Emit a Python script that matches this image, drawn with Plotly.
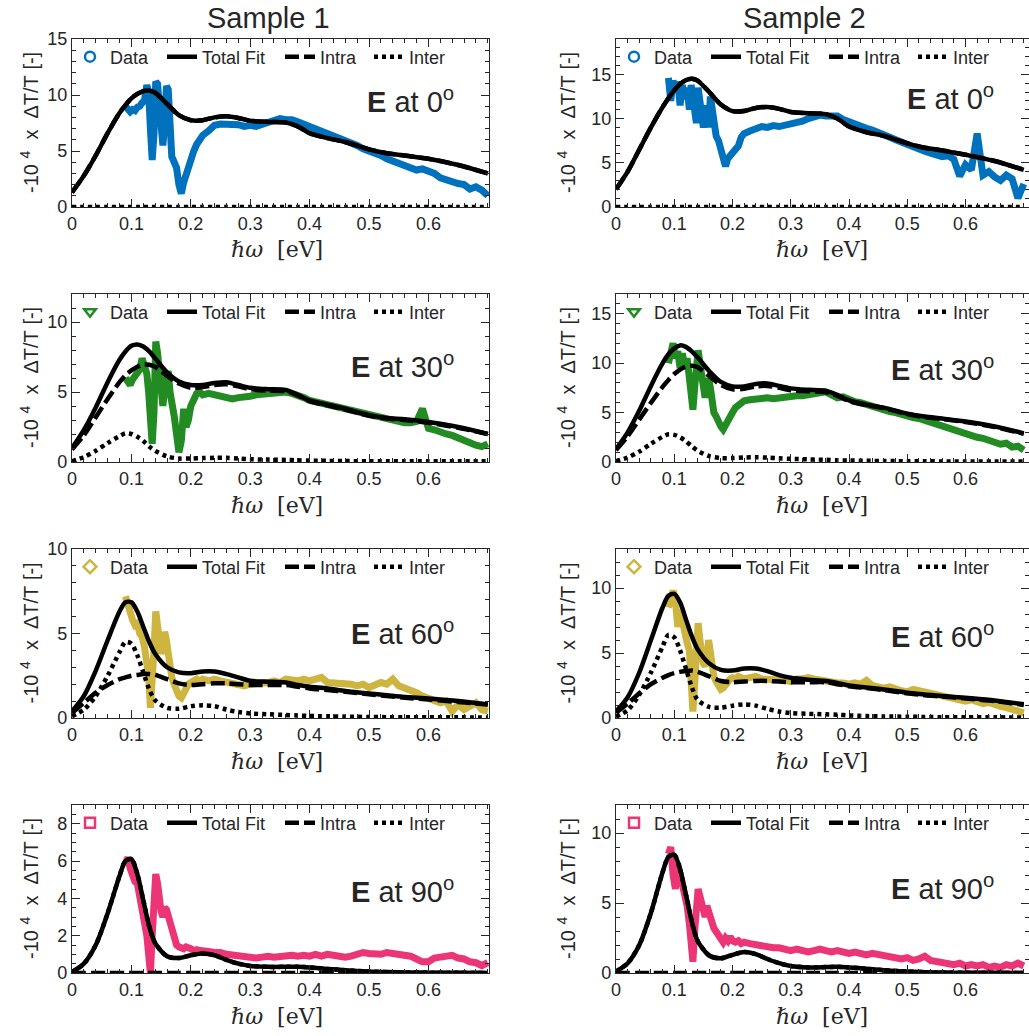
import plotly.graph_objects as go

# ---------------- data ----------------
FIT_X = [0, 0.02, 0.04, 0.06, 0.08, 0.09, 0.1, 0.11, 0.12, 0.13, 0.14, 0.16, 0.18, 0.2, 0.22,
         0.24, 0.26, 0.28, 0.3, 0.33, 0.36, 0.38, 0.4, 0.43, 0.46, 0.5, 0.53, 0.56, 0.6, 0.65, 0.7]

DATA_X = [0.090, 0.094, 0.098, 0.102, 0.106, 0.110, 0.114, 0.118, 0.122, 0.126,
          0.129, 0.132, 0.135, 0.138, 0.141, 0.144, 0.147, 0.150, 0.153, 0.156,
          0.159, 0.162, 0.165, 0.168, 0.172, 0.176, 0.180, 0.184, 0.188, 0.192,
          0.196, 0.200, 0.205, 0.210, 0.215, 0.220, 0.230, 0.240, 0.250, 0.260,
          0.270, 0.280, 0.290, 0.300, 0.310, 0.320, 0.330, 0.340, 0.350, 0.360,
          0.370, 0.380, 0.390, 0.400, 0.410, 0.420, 0.430, 0.440, 0.450, 0.460,
          0.470, 0.480, 0.490, 0.500, 0.510, 0.520, 0.530, 0.540, 0.550, 0.560,
          0.570, 0.580, 0.590, 0.600, 0.610, 0.620, 0.630, 0.640, 0.650, 0.660,
          0.670, 0.680, 0.690, 0.700]

# Sample 1, E at 0 deg
S1_0_DATA = [9.0, 8.6, 8.5, 8.7, 8.6, 8.9, 9.0, 9.3, 9.5, 10.9,
             10.2, 7.0, 4.2, 6.5, 11.2, 11.0, 9.0, 6.2, 5.5, 7.5,
             10.8, 10.5, 7.0, 4.5, 4.0, 3.5, 2.0, 1.2, 2.2, 3.0,
             3.8, 4.3, 5.0, 5.6, 6.0, 6.4, 6.8, 7.3, 7.4, 7.4,
             7.3, 7.35, 7.2, 7.3, 7.2, 7.4, 7.6, 7.7, 7.9, 7.8,
             7.8, 7.6, 7.4, 7.2, 7.0, 6.8, 6.5, 6.4, 6.2, 6.0,
             5.7, 5.5, 5.2, 5.0, 4.9, 4.6, 4.3, 4.1, 3.8, 3.6,
             3.5, 3.3, 3.4, 3.2, 3.0, 2.6, 2.4, 2.3, 2.1, 2.0,
             1.6, 1.8, 1.5, 1.0]
S1_0_TOTAL = [1.3, 2.8, 4.6, 6.6, 8.4, 9.1, 9.7, 10.1, 10.35, 10.4, 10.2, 9.2, 8.2, 7.75, 7.75,
              8.0, 8.1, 7.95, 7.7, 7.6, 7.55, 7.2, 6.6, 6.15, 5.8, 5.15, 4.8, 4.6, 4.3, 3.75, 3.0]
S1_0_INTRA = S1_0_TOTAL
S1_0_INTER = [0, 0, 0, 0, 0, 0, 0, 0, 0, 0, 0, 0, 0, 0, 0,
              0, 0, 0, 0, 0, 0, 0, 0, 0, 0, 0, 0, 0, 0, 0, 0]

# Sample 2, E at 0 deg
S2_0_DATA = [14.6, 12.0, 14.3, 13.0, 14.2, 11.5, 13.8, 12.2, 13.5, 11.0,
             13.8, 12.5, 10.0, 9.5, 13.5, 12.5, 10.5, 9.0, 11.5, 10.0,
             9.0, 12.5, 11.0, 8.5, 8.0, 7.5, 6.5, 5.0, 4.6, 5.5,
             5.8, 6.2, 6.5, 6.9, 7.9, 8.3, 8.6, 8.9, 9.1, 9.0,
             9.2, 9.1, 9.2, 9.3, 9.5, 9.7, 10.0, 10.1, 10.4, 10.3,
             10.2, 10.3, 9.9, 9.6, 9.4, 9.2, 8.9, 8.7, 8.5, 8.2,
             7.9, 7.6, 7.3, 7.0, 6.8, 6.4, 6.3, 6.1, 5.9, 5.7,
             5.8, 5.4, 3.5, 4.8, 4.2, 8.3, 3.6, 4.0, 3.4, 3.0,
             3.6, 3.2, 1.0, 2.6]
S2_0_TOTAL = [2.0, 4.0, 6.5, 9.0, 11.3, 12.3, 13.2, 13.9, 14.35, 14.5, 14.3, 13.0, 11.6, 10.85, 10.85,
              11.2, 11.3, 11.1, 10.75, 10.6, 10.5, 10.0, 9.1, 8.45, 8.05, 7.2, 6.7, 6.4, 5.9, 5.2, 4.2]
S2_0_INTRA = S2_0_TOTAL
S2_0_INTER = S1_0_INTER

# Sample 1, E at 30 deg
S1_30_DATA = [6.0, 5.7, 5.5, 5.9, 6.1, 6.3, 6.6, 7.4, 6.8, 6.3,
              5.0, 2.5, 1.3, 3.5, 8.6, 7.8, 6.5, 5.5, 4.0, 5.2,
              6.3, 6.5, 5.0, 3.8, 3.3, 2.0, 0.7, 1.5, 3.8, 2.5,
              3.0, 4.0, 4.5, 4.9, 5.0, 4.8, 4.9, 4.8, 4.7, 4.6,
              4.5, 4.6, 4.6, 4.7, 4.8, 4.85, 4.9, 5.0, 5.0, 5.0,
              4.9, 4.8, 4.6, 4.4, 4.3, 4.1, 4.0, 3.9, 3.8, 3.7,
              3.6, 3.5, 3.4, 3.3, 3.2, 3.1, 3.0, 3.0, 2.9, 2.8,
              2.8, 2.9, 3.8, 2.4, 2.3, 2.1, 2.0, 1.9, 1.7, 1.5,
              1.4, 1.2, 1.1, 1.3]
S1_30_TOTAL = [1.0, 2.3, 3.9, 5.7, 7.3, 7.9, 8.3, 8.4, 8.25, 7.9, 7.4, 6.4, 5.75, 5.5, 5.5,
               5.65, 5.7, 5.5, 5.3, 5.2, 5.15, 4.8, 4.4, 4.1, 3.8, 3.35, 3.15, 3.05, 2.85, 2.5, 2.0]
S1_30_INTRA = [0.9, 1.9, 3.2, 4.5, 5.7, 6.2, 6.55, 6.8, 6.95, 6.95, 6.8, 6.15, 5.6, 5.3, 5.35,
               5.5, 5.55, 5.4, 5.2, 5.1, 5.05, 4.75, 4.35, 4.05, 3.75, 3.3, 3.1, 3.0, 2.8, 2.45, 2.0]
S1_30_INTER = [0.05, 0.35, 0.8, 1.35, 1.85, 2.05, 2.0, 1.8, 1.5, 1.1, 0.8, 0.4, 0.25, 0.25, 0.28,
               0.3, 0.3, 0.25, 0.2, 0.17, 0.15, 0.12, 0.1, 0.08, 0.07, 0.05, 0.05, 0.05, 0.05, 0.05, 0.05]

# Sample 2, E at 30 deg
S2_30_DATA = [10.0, 11.5, 12.0, 10.5, 11.2, 9.5, 11.0, 9.5, 10.5, 8.5,
              6.5, 5.3, 7.5, 9.5, 11.3, 10.0, 8.5, 7.0, 6.5, 7.5,
              8.5, 7.5, 6.0, 5.0, 4.6, 4.0, 3.6, 3.3, 3.8, 4.3,
              4.6, 5.0, 5.5, 5.8, 6.0, 6.2, 6.3, 6.4, 6.5, 6.5,
              6.4, 6.5, 6.6, 6.6, 6.7, 6.7, 6.8, 6.9, 7.0, 7.1,
              6.8, 6.5, 6.6, 6.3, 6.1, 6.0, 5.8, 5.7, 5.5, 5.3,
              5.1, 5.0, 4.8, 4.7, 4.5, 4.4, 4.2, 4.0, 3.8, 3.7,
              3.5, 3.3, 3.1, 2.9, 2.7, 2.5, 2.4, 2.2, 2.0, 1.8,
              1.9, 1.5, 1.6, 1.2]
S2_30_TOTAL = [1.3, 3.0, 5.2, 7.7, 10.0, 10.9, 11.5, 11.8, 11.65, 11.2, 10.6, 9.2, 8.1, 7.65, 7.65,
               7.9, 7.95, 7.7, 7.45, 7.3, 7.2, 6.8, 6.25, 5.8, 5.5, 4.9, 4.6, 4.4, 4.1, 3.6, 2.9]
S2_30_INTRA = [1.2, 2.6, 4.3, 6.0, 7.6, 8.3, 8.9, 9.35, 9.65, 9.75, 9.6, 8.7, 7.8, 7.35, 7.4,
               7.65, 7.7, 7.5, 7.25, 7.15, 7.05, 6.7, 6.15, 5.75, 5.45, 4.85, 4.55, 4.35, 4.05, 3.55, 2.85]
S2_30_INTER = [0.1, 0.45, 1.05, 1.85, 2.55, 2.8, 2.75, 2.5, 2.1, 1.6, 1.15, 0.6, 0.4, 0.4, 0.45,
               0.48, 0.45, 0.38, 0.32, 0.27, 0.22, 0.18, 0.15, 0.12, 0.1, 0.08, 0.07, 0.06, 0.05, 0.05, 0.05]

# Sample 1, E at 60 deg
S1_60_DATA = [7.2, 6.6, 6.3, 5.8, 5.5, 5.6, 5.0, 4.8, 4.2, 3.5,
              2.5, 0.6, 1.8, 4.0, 6.3, 5.5, 4.5, 3.8, 4.2, 5.1,
              4.6, 3.8, 3.0, 2.4, 2.0, 1.6, 1.3, 1.2, 1.5, 1.8,
              2.0, 2.1, 2.2, 2.3, 2.2, 2.3, 2.2, 2.3, 2.2, 2.1,
              2.0, 2.0, 1.9, 2.0, 2.0, 2.1, 2.1, 2.2, 2.1, 2.3,
              2.2, 2.2, 2.3, 2.2, 2.3, 2.4, 2.1, 2.1, 2.0, 2.1,
              2.0, 1.9, 2.0, 1.8, 1.9, 2.1, 2.0, 2.3, 1.9, 1.8,
              1.6, 1.5, 1.3, 1.2, 1.1, 0.9, 1.0, 0.4, 0.8, 0.5,
              0.7, 0.9, 0.5, 0.4]
S1_60_TOTAL = [0.4, 1.3, 2.8, 4.6, 6.3, 6.85, 6.85, 6.3, 5.4, 4.5, 3.8, 3.0, 2.7, 2.65, 2.75,
               2.75, 2.6, 2.4, 2.2, 2.15, 2.1, 1.95, 1.85, 1.75, 1.6, 1.45, 1.35, 1.25, 1.15, 1.0, 0.8]
S1_60_INTRA = [0.3, 0.9, 1.5, 1.95, 2.3, 2.4, 2.5, 2.55, 2.6, 2.6, 2.55, 2.3, 2.05, 1.95, 2.0,
               2.05, 2.05, 2.0, 1.95, 1.95, 1.95, 1.85, 1.75, 1.65, 1.55, 1.4, 1.3, 1.2, 1.1, 0.95, 0.8]
S1_60_INTER = [0.1, 0.5, 1.3, 2.5, 3.9, 4.5, 4.4, 3.7, 2.7, 1.7, 1.05, 0.6, 0.55, 0.7, 0.75,
               0.7, 0.5, 0.35, 0.27, 0.22, 0.18, 0.15, 0.12, 0.1, 0.08, 0.06, 0.05, 0.05, 0.04, 0.04, 0.03]

# Sample 2, E at 60 deg
S2_60_DATA = [8.5, 9.5, 9.8, 9.0, 7.0, 8.3, 7.2, 6.5, 5.8, 5.2,
              3.5, 0.5, 2.5, 5.0, 7.3, 6.0, 4.8, 4.2, 4.0, 4.5,
              6.0, 5.0, 3.8, 3.2, 2.8, 2.4, 2.2, 2.3, 2.6, 2.9,
              3.0, 3.1, 3.0, 3.2, 3.1, 3.0, 3.1, 3.2, 3.0, 3.0,
              2.9, 2.9, 2.9, 2.8, 3.0, 3.0, 3.1, 3.0, 2.9, 2.9,
              2.8, 2.7, 2.7, 2.6, 2.7, 2.6, 2.9, 2.5, 2.4, 2.3,
              2.4, 2.2, 2.1, 2.0, 2.2, 2.1, 2.0, 1.9, 1.8, 1.7,
              1.6, 1.5, 1.4, 1.3, 1.4, 1.2, 1.1, 1.2, 1.0, 0.9,
              0.8, 0.7, 0.6, 0.4]
S2_60_TOTAL = [0.5, 1.6, 3.5, 6.0, 8.5, 9.4, 9.55, 8.9, 7.6, 6.3, 5.3, 4.2, 3.7, 3.65, 3.8,
               3.8, 3.6, 3.3, 3.1, 2.95, 2.85, 2.7, 2.5, 2.35, 2.2, 1.95, 1.8, 1.7, 1.55, 1.35, 1.05]
S2_60_INTRA = [0.4, 1.1, 1.9, 2.6, 3.1, 3.3, 3.45, 3.55, 3.6, 3.65, 3.55, 3.2, 2.85, 2.75, 2.8,
               2.85, 2.85, 2.8, 2.75, 2.75, 2.75, 2.6, 2.45, 2.3, 2.15, 1.9, 1.75, 1.65, 1.5, 1.3, 1.0]
S2_60_INTER = [0.1, 0.6, 1.8, 3.5, 5.5, 6.4, 6.2, 5.2, 3.8, 2.4, 1.4, 0.85, 0.8, 0.95, 1.05,
               0.95, 0.7, 0.5, 0.38, 0.32, 0.28, 0.25, 0.2, 0.15, 0.12, 0.1, 0.08, 0.06, 0.05, 0.05, 0.04]

# Sample 1, E at 90 deg
S1_90_DATA = [5.8, 6.2, 5.6, 5.2, 4.9, 4.8, 4.2, 3.5, 2.8, 2.0,
              1.0, 0.0, 2.0, 4.5, 5.3, 4.8, 3.8, 3.3, 3.0, 3.5,
              3.4, 3.0, 2.6, 2.2, 1.8, 1.5, 1.4, 1.3, 1.3, 1.4,
              1.3, 1.3, 1.2, 1.25, 1.2, 1.2, 1.15, 1.1, 1.1, 1.0,
              0.95, 0.9, 0.85, 0.85, 0.8, 0.85, 0.9, 0.85, 0.9, 0.9,
              0.95, 0.9, 0.95, 0.9, 1.0, 0.9, 1.0, 0.95, 0.9, 0.85,
              0.9, 1.0, 1.1, 1.05, 1.0, 1.0, 1.1, 1.05, 1.0, 1.0,
              0.9, 0.75, 0.6, 0.6, 0.8, 0.85, 0.9, 0.95, 0.8, 0.75,
              0.6, 0.55, 0.4, 0.55]
S1_90_TOTAL = [0.05, 0.5, 1.5, 3.2, 5.2, 6.0, 6.1, 5.3, 3.9, 2.5, 1.6, 0.9, 0.8, 0.95, 1.05,
               0.95, 0.7, 0.5, 0.38, 0.33, 0.33, 0.33, 0.3, 0.22, 0.15, 0.08, 0.05, 0.03, 0.02, 0.01, 0.0]
S1_90_INTRA = S1_0_INTER
S1_90_INTER = S1_90_TOTAL

# Sample 2, E at 90 deg
S2_90_DATA = [8.5, 9.0, 7.0, 6.0, 7.8, 7.0, 6.5, 5.8, 4.8, 3.5,
              2.0, 0.8, 3.0, 4.5, 6.0, 5.5, 4.8, 4.3, 4.0, 4.8,
              4.5, 4.0, 3.6, 3.2, 2.9, 2.6, 2.4, 2.2, 2.5, 2.3,
              2.6, 2.3, 2.2, 2.3, 2.1, 2.2, 2.1, 2.0, 1.9, 1.9,
              1.8, 1.8, 1.7, 1.6, 1.7, 1.6, 1.5, 1.6, 1.7, 1.6,
              1.5, 1.6, 1.5, 1.4, 1.5, 1.4, 1.3, 1.4, 1.3, 1.2,
              1.1, 1.0, 1.0, 1.1, 0.9, 1.0, 1.2, 0.9, 0.8, 0.8,
              0.7, 0.6, 0.7, 0.5, 0.6, 0.5, 0.6, 0.4, 0.5, 0.4,
              0.6, 0.5, 0.7, 0.5]
S2_90_TOTAL = [0.1, 0.7, 2.0, 4.3, 7.2, 8.3, 8.45, 7.4, 5.6, 3.7, 2.3, 1.25, 1.05, 1.3, 1.5,
               1.35, 1.0, 0.7, 0.5, 0.4, 0.42, 0.45, 0.4, 0.3, 0.2, 0.1, 0.06, 0.03, 0.02, 0.01, 0.0]
S2_90_INTRA = S1_0_INTER
S2_90_INTER = S2_90_TOTAL

ANGLES = ["0", "30", "60", "90"]
SAMPLES = ["Sample 1", "Sample 2"]
X_TICKS = [0, 0.1, 0.2, 0.3, 0.4, 0.5, 0.6]
Y_RANGES = [[15, 19], [12, 17], [10, 13], [9, 12]]
Y_DTICK = [[5, 5], [5, 5], [5, 5], [2, 5]]
Y_MINOR = [[1, 1], [1, 1], [1, 1], [0.5, 1]]
DATA_COLORS = ["#0072BD", "#228B22", "#CDB53F", "#EC3577"]
DATA_SYMBOLS = ["circle-open", "triangle-down-open", "diamond-open", "square-open"]
LEGEND_NAMES = ["Data", "Total Fit", "Intra", "Inter"]

PANELS = [
    [(S1_0_DATA, S1_0_TOTAL, S1_0_INTRA, S1_0_INTER), (S2_0_DATA, S2_0_TOTAL, S2_0_INTRA, S2_0_INTER)],
    [(S1_30_DATA, S1_30_TOTAL, S1_30_INTRA, S1_30_INTER), (S2_30_DATA, S2_30_TOTAL, S2_30_INTRA, S2_30_INTER)],
    [(S1_60_DATA, S1_60_TOTAL, S1_60_INTRA, S1_60_INTER), (S2_60_DATA, S2_60_TOTAL, S2_60_INTRA, S2_60_INTER)],
    [(S1_90_DATA, S1_90_TOTAL, S1_90_INTRA, S1_90_INTER), (S2_90_DATA, S2_90_TOTAL, S2_90_INTRA, S2_90_INTER)],
]

# ---------------- layout geometry (target screen pixels) ----------------
W, H = 1029, 1036
OFF = 0  # page body margin is removed below
COL_X = [(72, 489), (616, 1029)]
X_RANGE_MAX = [0.702, 0.709]
ROW_Y = [(39, 207), (294, 462), (549, 718), (805, 973)]
E_LABEL_Y = [[0.637, 0.655], [0.577, 0.56], [0.506, 0.494], [0.494, 0.512]]
YTITLE_X = [29, 566]
XTITLE_X = [277, 822]
SAMPLE_X = [268, 804]

INK = "#262626"
SANS = "Liberation Sans, Arial, Helvetica, sans-serif"
NB = "\u00a0"

fig = go.Figure()
layout = dict(width=W, height=H, margin=dict(l=0, r=0, t=0, b=0, pad=0, autoexpand=False),
              paper_bgcolor="white", plot_bgcolor="white", showlegend=True,
              annotations=[])


def px_x(p):
    return (p - OFF) / W


def px_y(p):
    return 1 - (p - OFF) / H


k = 0
for r in range(4):
    for c in range(2):
        k += 1
        xa = "x" if k == 1 else f"x{k}"
        ya = "y" if k == 1 else f"y{k}"
        lg = "legend" if k == 1 else f"legend{k}"
        data, total, intra, inter = PANELS[r][c]
        col = DATA_COLORS[r]

        fig.add_trace(go.Scatter(x=DATA_X, y=data, mode="lines",
                                 line=dict(color=col, width=7),
                                 showlegend=False, xaxis=xa, yaxis=ya, hoverinfo="skip"))
        fig.add_trace(go.Scatter(x=[None], y=[None], mode="markers", name=LEGEND_NAMES[0],
                                 marker=dict(symbol=DATA_SYMBOLS[r], size=10, color=col,
                                             line=dict(color=col, width=2.5)),
                                 legend=lg, legendwidth=47, xaxis=xa, yaxis=ya))
        fig.add_trace(go.Scatter(x=FIT_X, y=total, mode="lines", name=LEGEND_NAMES[1],
                                 line=dict(color="black", width=4.5, shape="spline", smoothing=0.8),
                                 legend=lg, legendwidth=73, xaxis=xa, yaxis=ya))
        fig.add_trace(go.Scatter(x=FIT_X, y=intra, mode="lines", name=LEGEND_NAMES[2],
                                 line=dict(color="black", width=4.5, dash="14px,5px",
                                           shape="spline", smoothing=0.8),
                                 legend=lg, legendwidth=44, xaxis=xa, yaxis=ya))
        fig.add_trace(go.Scatter(x=FIT_X, y=inter, mode="lines", name=LEGEND_NAMES[3],
                                 line=dict(color="black", width=4.5, dash="4px,4px",
                                           shape="spline", smoothing=0.8),
                                 legend=lg, legendwidth=45, xaxis=xa, yaxis=ya))

        x0, x1 = COL_X[c]
        y0, y1 = ROW_Y[r]
        common = dict(showline=True, linecolor=INK, linewidth=1.4, mirror="allticks",
                      ticks="inside", ticklen=8, tickwidth=1.4, tickcolor=INK,
                      showgrid=False, zeroline=False,
                      tickfont=dict(family=SANS, size=18, color=INK))
        layout["xaxis" if k == 1 else f"xaxis{k}"] = dict(
            common, domain=[px_x(x0), px_x(x1)], anchor=ya,
            range=[0, X_RANGE_MAX[c]], tickmode="array", tickvals=X_TICKS,
            minor=dict(ticks="inside", ticklen=4, tickwidth=1.2, tickcolor=INK,
                       tick0=0, dtick=0.02))
        layout["yaxis" if k == 1 else f"yaxis{k}"] = dict(
            common, domain=[px_y(y1), px_y(y0)], anchor=xa,
            range=[0, Y_RANGES[r][c]], tick0=0, dtick=Y_DTICK[r][c],
            minor=dict(ticks="inside", ticklen=4, tickwidth=1.2, tickcolor=INK,
                       tick0=0, dtick=Y_MINOR[r][c]))
        layout[lg] = dict(orientation="h", x=px_x(x0 - 2), xanchor="left",
                          y=px_y(y0 + 18), yanchor="middle",
                          bgcolor="rgba(0,0,0,0)", borderwidth=0,
                          font=dict(family=SANS, size=18, color=INK),
                          itemwidth=30, tracegroupgap=0)

        # "E at .." label
        layout["annotations"].append(dict(
            text=f"<b>E</b> at {ANGLES[r]}<sup>o</sup>", xref=f"{xa} domain", yref=f"{ya} domain",
            x=1 - 33 / (x1 - x0), y=E_LABEL_Y[r][c], xanchor="right", yanchor="middle",
            showarrow=False, font=dict(family=SANS, size=29, color=INK)))
        # y-axis title
        layout["annotations"].append(dict(
            text=f"-10{NB}<sup>4</sup>{NB}{NB}x{NB}{NB}\u0394T/T{NB}[-]", xref="paper", yref="paper",
            x=px_x(YTITLE_X[c]), y=px_y((y0 + y1) / 2), xanchor="center", yanchor="middle",
            textangle=-90, showarrow=False, font=dict(family=SANS, size=20, color=INK)))
        # x-axis title
        layout["annotations"].append(dict(
            text=f"<i>\u210f\u03c9</i>{NB}{NB}[eV]", xref="paper", yref="paper",
            x=px_x(XTITLE_X[c]), y=px_y(y1 + 43), xanchor="center", yanchor="middle",
            showarrow=False, font=dict(family="DejaVu Serif, serif", size=22, color=INK)))

# column titles
for c in range(2):
    layout["annotations"].append(dict(
        text=SAMPLES[c], xref="paper", yref="paper", x=px_x(SAMPLE_X[c]), y=px_y(18),
        xanchor="center", yanchor="middle", showarrow=False,
        font=dict(family=SANS, size=29, color=INK)))

fig.update_layout(**layout)
fig.write_html("out.html", config={"displayModeBar": False},
               post_script="document.body.style.margin='0px';")
